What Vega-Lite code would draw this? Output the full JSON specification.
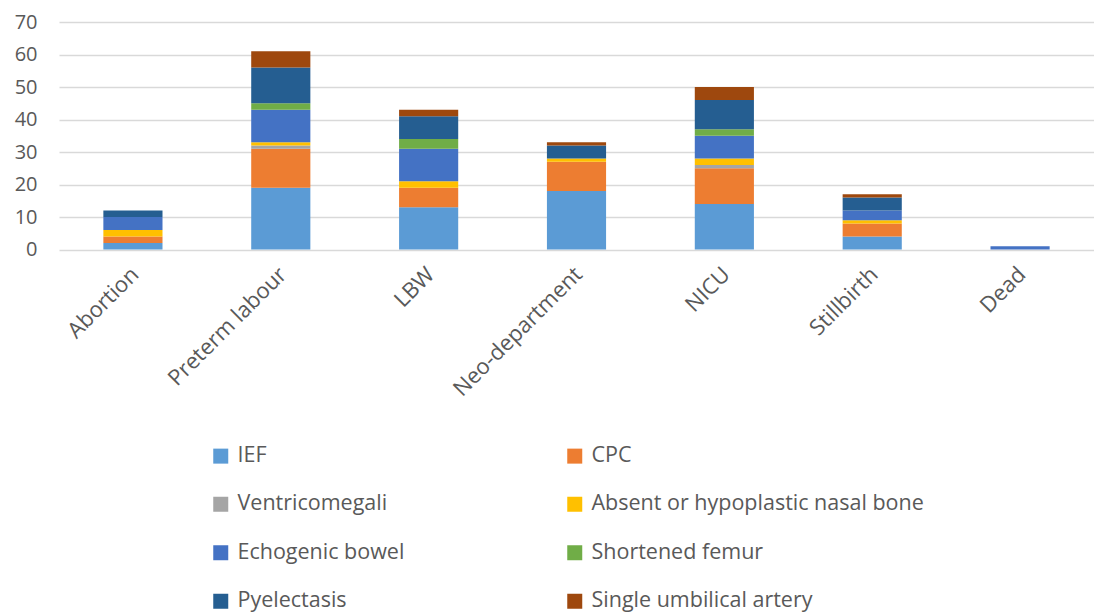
{
  "$schema": "https://vega.github.io/schema/vega-lite/v6.json",
  "autosize": "none",
  "width": 1035,
  "height": 227.5,
  "padding": {"left": 59, "top": 22, "right": 0, "bottom": 363.5},
  "background": "white",
  "config": {
    "font": "Open Sans",
    "view": {"stroke": null},
    "axis": {"labelFont": "Open Sans", "labelColor": "#595959", "labelFontSize": 20, "ticks": false, "domain": false, "grid": false},
    "legend": {"labelFont": "Open Sans", "labelColor": "#595959", "labelFontSize": 21.5}
  },
  "data": {
    "values": [
      {"category": "Abortion", "type": "IEF", "k": 1, "value": 2},
      {"category": "Abortion", "type": "CPC", "k": 2, "value": 2},
      {"category": "Abortion", "type": "Absent or hypoplastic nasal bone", "k": 4, "value": 2},
      {"category": "Abortion", "type": "Echogenic bowel", "k": 5, "value": 4},
      {"category": "Abortion", "type": "Pyelectasis", "k": 7, "value": 2},
      {"category": "Preterm labour", "type": "IEF", "k": 1, "value": 19},
      {"category": "Preterm labour", "type": "CPC", "k": 2, "value": 12},
      {"category": "Preterm labour", "type": "Ventricomegali", "k": 3, "value": 1},
      {"category": "Preterm labour", "type": "Absent or hypoplastic nasal bone", "k": 4, "value": 1},
      {"category": "Preterm labour", "type": "Echogenic bowel", "k": 5, "value": 10},
      {"category": "Preterm labour", "type": "Shortened femur", "k": 6, "value": 2},
      {"category": "Preterm labour", "type": "Pyelectasis", "k": 7, "value": 11},
      {"category": "Preterm labour", "type": "Single umbilical artery", "k": 8, "value": 5},
      {"category": "LBW", "type": "IEF", "k": 1, "value": 13},
      {"category": "LBW", "type": "CPC", "k": 2, "value": 6},
      {"category": "LBW", "type": "Absent or hypoplastic nasal bone", "k": 4, "value": 2},
      {"category": "LBW", "type": "Echogenic bowel", "k": 5, "value": 10},
      {"category": "LBW", "type": "Shortened femur", "k": 6, "value": 3},
      {"category": "LBW", "type": "Pyelectasis", "k": 7, "value": 7},
      {"category": "LBW", "type": "Single umbilical artery", "k": 8, "value": 2},
      {"category": "Neo-department", "type": "IEF", "k": 1, "value": 18},
      {"category": "Neo-department", "type": "CPC", "k": 2, "value": 9},
      {"category": "Neo-department", "type": "Absent or hypoplastic nasal bone", "k": 4, "value": 1},
      {"category": "Neo-department", "type": "Pyelectasis", "k": 7, "value": 4},
      {"category": "Neo-department", "type": "Single umbilical artery", "k": 8, "value": 1},
      {"category": "NICU", "type": "IEF", "k": 1, "value": 14},
      {"category": "NICU", "type": "CPC", "k": 2, "value": 11},
      {"category": "NICU", "type": "Ventricomegali", "k": 3, "value": 1},
      {"category": "NICU", "type": "Absent or hypoplastic nasal bone", "k": 4, "value": 2},
      {"category": "NICU", "type": "Echogenic bowel", "k": 5, "value": 7},
      {"category": "NICU", "type": "Shortened femur", "k": 6, "value": 2},
      {"category": "NICU", "type": "Pyelectasis", "k": 7, "value": 9},
      {"category": "NICU", "type": "Single umbilical artery", "k": 8, "value": 4},
      {"category": "Stillbirth", "type": "IEF", "k": 1, "value": 4},
      {"category": "Stillbirth", "type": "CPC", "k": 2, "value": 4},
      {"category": "Stillbirth", "type": "Absent or hypoplastic nasal bone", "k": 4, "value": 1},
      {"category": "Stillbirth", "type": "Echogenic bowel", "k": 5, "value": 3},
      {"category": "Stillbirth", "type": "Pyelectasis", "k": 7, "value": 4},
      {"category": "Stillbirth", "type": "Single umbilical artery", "k": 8, "value": 1},
      {"category": "Dead", "type": "Echogenic bowel", "k": 5, "value": 1}
    ]
  },
  "mark": {"type": "bar"},
  "encoding": {
    "x": {
      "field": "category", "type": "nominal",
      "sort": ["Abortion", "Preterm labour", "LBW", "Neo-department", "NICU", "Stillbirth", "Dead"],
      "scale": {"paddingInner": 0.6, "paddingOuter": 0.3},
      "axis": {"title": null, "labelAngle": -45, "labelAlign": "right", "labelBaseline": "top", "labelPadding": 14, "labelOffset": -5, "labelFontSize": 22}
    },
    "y": {
      "field": "value", "type": "quantitative", "aggregate": "sum",
      "scale": {"domain": [0, 70], "nice": false},
      "axis": {"title": null, "values": [0, 10, 20, 30, 40, 50, 60, 70], "grid": true, "gridColor": "#d9d9d9", "gridWidth": 1.3, "labelPadding": 22}
    },
    "color": {
      "field": "type", "type": "nominal",
      "sort": ["IEF", "CPC", "Ventricomegali", "Absent or hypoplastic nasal bone", "Echogenic bowel", "Shortened femur", "Pyelectasis", "Single umbilical artery"],
      "scale": {
        "domain": ["IEF", "CPC", "Ventricomegali", "Absent or hypoplastic nasal bone", "Echogenic bowel", "Shortened femur", "Pyelectasis", "Single umbilical artery"],
        "range": ["#5B9BD5", "#ED7D31", "#A5A5A5", "#FFC000", "#4472C4", "#70AD47", "#255E91", "#9E480E"]
      },
      "legend": {
        "title": null, "orient": "none", "legendX": 151, "legendY": 423, "direction": "horizontal",
        "columns": 2, "columnPadding": 159, "rowPadding": 25.5, "labelLimit": 500,
        "symbolType": "square", "symbolSize": 225, "symbolStrokeWidth": 0, "labelOffset": 6
      }
    },
    "order": {"field": "k", "type": "quantitative", "sort": "ascending"}
  }
}
